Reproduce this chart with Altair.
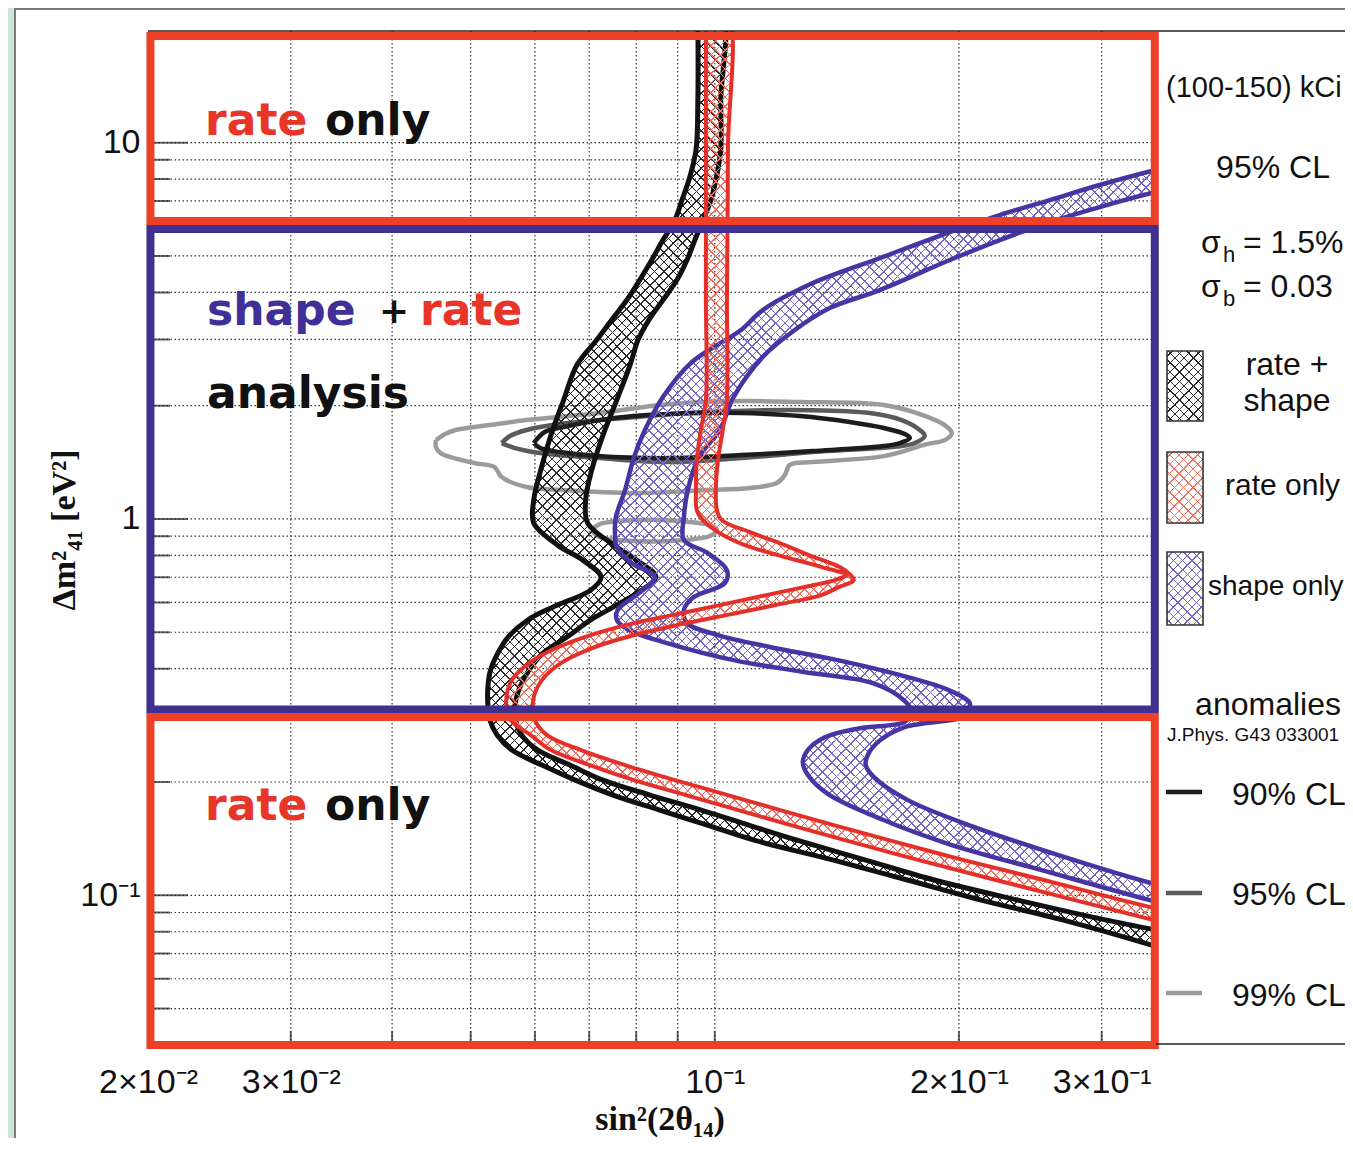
import math
import altair as alt
import pandas as pd

# ---------------- data ----------------
# black band: rate + shape
black_y = [22.0, 12.98, 9.557, 7.954, 7.038, 6.228, 5.510, 4.876, 4.314, 3.817, 3.377, 2.988, 2.564, 2.070,
           1.671, 1.349, 1.122, 0.975, 0.852, 0.778, 0.701, 0.647, 0.583, 0.539, 0.4855, 0.440, 0.3967, 0.3575,
           0.3203, 0.2922, 0.2665, 0.2431, 0.2218, 0.2023, 0.1846, 0.1684, 0.1536, 0.1401, 0.1240, 0.1098,
           0.0971, 0.0859, 0.0737, 0.0672]
black_left = [0.0953, 0.0953, 0.0948, 0.0929, 0.0911, 0.0893, 0.0863, 0.0836, 0.0808, 0.0779, 0.0746, 0.0715,
              0.0676, 0.0651, 0.0628, 0.0610, 0.0598, 0.0598, 0.0640, 0.0687, 0.0724, 0.0703, 0.0631, 0.0588,
              0.0556, 0.0540, 0.0529, 0.0525, 0.0525, 0.0528, 0.0539, 0.0562, 0.0612, 0.0673, 0.0749, 0.0855,
              0.0979, 0.1118, 0.1401, 0.1728, 0.2131, 0.2691, 0.3458, 0.3963]
black_right = [0.1020, 0.1017, 0.1017, 0.1003, 0.0989, 0.0967, 0.0945, 0.0924, 0.0898, 0.0863, 0.0829, 0.0804,
               0.0786, 0.0757, 0.0728, 0.0705, 0.0693, 0.0697, 0.0751, 0.0801, 0.0846, 0.0813, 0.0749, 0.0703,
               0.0657, 0.0614, 0.0590, 0.0575, 0.0567, 0.0568, 0.0578, 0.0605, 0.0663, 0.0728, 0.0832, 0.0962,
               0.1101, 0.1263, 0.1535, 0.1865, 0.2364, 0.3040, 0.4316, 0.4974]

# red band: rate only
red_y = [22.0, 9.557, 3.817, 2.070, 1.723, 1.434, 1.193, 1.056, 0.993, 0.917, 0.852, 0.8017, 0.745, 0.7094,
         0.688, 0.659, 0.6276, 0.5904, 0.5553, 0.5224, 0.4915, 0.4539, 0.4140, 0.3731, 0.3302, 0.2922, 0.2665,
         0.2431, 0.2218, 0.2023, 0.1846, 0.1684, 0.1536, 0.1401, 0.1240, 0.1098, 0.0971, 0.0859, 0.0760]
red_left = [0.0975, 0.0975, 0.0975, 0.0975, 0.0961, 0.0950, 0.0948, 0.0950, 0.0967, 0.1014, 0.1089, 0.1196,
            0.1355, 0.1451, 0.1406, 0.1288, 0.1157, 0.1014, 0.0886, 0.0777, 0.0703, 0.0637, 0.0590, 0.0562,
            0.0553, 0.0560, 0.0593, 0.0628, 0.0701, 0.0795, 0.0921, 0.1069, 0.1241, 0.1447, 0.1785, 0.2221,
            0.2779, 0.3478, 0.4402]
red_right = [0.1035, 0.1038, 0.1035, 0.1035, 0.1023, 0.1009, 0.1003, 0.1006, 0.1020, 0.1114, 0.1220, 0.1306,
             0.1426, 0.1471, 0.1484, 0.1422, 0.1353, 0.1188, 0.1034, 0.0898, 0.0796, 0.0706, 0.0646, 0.0612,
             0.0597, 0.0600, 0.0621, 0.0684, 0.0775, 0.0893, 0.1038, 0.1204, 0.1402, 0.1639, 0.2028, 0.2545,
             0.3176, 0.4008, 0.5117]

# blue band: shape only (two edges)
blue_left_x = [0.3963, 0.3498, 0.2983, 0.2589, 0.2246, 0.1949, 0.1598, 0.1321, 0.1146, 0.1077, 0.0934, 0.0863,
               0.0820, 0.0795, 0.0775, 0.0755, 0.0753, 0.0757, 0.0790, 0.0843, 0.0806, 0.0759, 0.0757, 0.0783,
               0.0873, 0.1058, 0.1288, 0.1566, 0.1710, 0.1749, 0.1715, 0.1509, 0.1367, 0.1302, 0.1284, 0.1302,
               0.1378, 0.1620, 0.1960, 0.2516, 0.3439, 0.4077]
blue_left_y = [8.99, 8.456, 7.715, 7.038, 6.421, 5.787, 4.936, 4.235, 3.590, 3.177, 2.596, 2.109, 1.723, 1.460,
               1.193, 1.012, 0.934, 0.842, 0.763, 0.701, 0.635, 0.573, 0.539, 0.507, 0.468, 0.421, 0.392, 0.366,
               0.330, 0.307, 0.289, 0.278, 0.263, 0.243, 0.226, 0.209, 0.186, 0.158, 0.136, 0.117, 0.0971, 0.0886]
blue_right_x = [0.4077, 0.3498, 0.2983, 0.2589, 0.2246, 0.1949, 0.1598, 0.1386, 0.1255, 0.1146, 0.1055, 0.1014,
                0.0956, 0.0926, 0.0916, 0.0916, 0.0980, 0.1035, 0.1029, 0.0942, 0.0916, 0.0924, 0.1009, 0.1169,
                0.1422, 0.1730, 0.1943, 0.2063, 0.2051, 0.2045, 0.1715, 0.1598, 0.1544, 0.1535, 0.1575, 0.1730,
                0.2086, 0.2678, 0.3439, 0.4077]
blue_right_y = [7.954, 7.391, 6.743, 6.152, 5.510, 4.876, 4.058, 3.634, 3.177, 2.693, 2.109, 1.723, 1.460, 1.193,
                1.012, 0.879, 0.812, 0.731, 0.675, 0.620, 0.573, 0.529, 0.4915, 0.457, 0.421, 0.380, 0.351, 0.324,
                0.307, 0.299, 0.280, 0.258, 0.236, 0.222, 0.205, 0.179, 0.152, 0.127, 0.108, 0.0995]

# anomalies contours (J.Phys. G43 033001)
cl90_x = [0.0598, 0.0617, 0.0650, 0.0721, 0.0795, 0.0958, 0.1077, 0.1273, 0.1467, 0.1616, 0.1715, 0.1740,
          0.1691, 0.1616, 0.1321, 0.1077, 0.0880, 0.0717, 0.0644, 0.0609, 0.0598]
cl90_y = [1.591, 1.702, 1.754, 1.831, 1.877, 1.912, 1.912, 1.877, 1.809, 1.744, 1.681, 1.641, 1.591, 1.562,
          1.515, 1.478, 1.451, 1.469, 1.506, 1.543, 1.591]
cl95_x = [0.0546, 0.0559, 0.0586, 0.0644, 0.0721, 0.0975, 0.1321, 0.1553, 0.1700, 0.1790, 0.1815, 0.1765,
          0.1700, 0.1321, 0.1077, 0.0880, 0.0721, 0.0609, 0.0567, 0.0546]
cl95_y = [1.591, 1.661, 1.723, 1.787, 1.831, 1.924, 1.946, 1.912, 1.831, 1.723, 1.661, 1.591, 1.562, 1.506,
          1.451, 1.416, 1.451, 1.497, 1.543, 1.591]
cl99_x = [0.0453, 0.0465, 0.0479, 0.0528, 0.0586, 0.0721, 0.0880, 0.1077, 0.1273, 0.1616, 0.1790, 0.1921,
          0.1960, 0.1921, 0.1826, 0.1616, 0.1321, 0.1237, 0.1220, 0.1192, 0.1105, 0.0975, 0.0795, 0.0650,
          0.0586, 0.0546, 0.0535, 0.0505, 0.0459, 0.0453, 0.0453]
cl99_y = [1.620, 1.681, 1.723, 1.776, 1.831, 1.912, 2.020, 2.057, 2.045, 2.008, 1.900, 1.776, 1.692, 1.620,
          1.581, 1.469, 1.416, 1.391, 1.308, 1.246, 1.208, 1.193, 1.172, 1.193, 1.216, 1.292, 1.374, 1.408,
          1.497, 1.553, 1.620]
cl99b_x = [0.0705, 0.0721, 0.0795, 0.0905, 0.0986, 0.1006, 0.0986, 0.0880, 0.0795, 0.0721, 0.0705]
cl99b_y = [0.934, 0.969, 0.993, 0.987, 0.963, 0.934, 0.901, 0.874, 0.874, 0.895, 0.934]

# analysis regions (Δm² ranges of the framed boxes)
region_names = ["rate only (high)", "shape + rate", "rate only (low)"]
region_lo = [6.19, 0.3116, 0.0400]
region_hi = [19.2, 5.894, 0.2976]
region_sin_lo = [0.02014, 0.02014, 0.02014]
region_sin_hi = [0.3488, 0.3488, 0.3488]

# axis ticks / grid
x_grid = [0.03, 0.04, 0.05, 0.06, 0.07, 0.08, 0.09, 0.1, 0.2, 0.3]
x_labelled = [0.02, 0.03, 0.1, 0.2, 0.3]
y_grid = [0.05, 0.06, 0.07, 0.08, 0.09, 0.1, 0.2, 0.3, 0.4, 0.5, 0.6, 0.7, 0.8, 0.9,
          1, 2, 3, 4, 5, 6, 7, 8, 9, 10]
y_major = [0.1, 1, 10]
y_minor = [0.05, 0.06, 0.07, 0.08, 0.09, 0.2, 0.3, 0.4, 0.5, 0.6, 0.7, 0.8, 0.9,
           2, 3, 4, 5, 6, 7, 8, 9]

# ---------------- styling ----------------
RED_BOX = "#ec4126"
BLUE_BOX = "#3f2f91"
RED_LINE = "#e4302a"
BLUE_LINE = "#4834a2"
RED_TXT = "#e8352a"
BLUE_TXT = "#3f2f96"
HATCH_K = "#2a2a2a"
HATCH_R = "#f0705f"
HATCH_B = "#7466c4"
CLEAR = "rgba(255,255,255,0)"
W, H = 1008, 1012
XD = [0.02, 0.35]
YD = [0.0405, 19.8]

xs = alt.Scale(type="log", domain=XD, nice=False)
ys = alt.Scale(type="log", domain=YD, nice=False)
x_expr = ("datum.value==0.02?'2×10⁻²':datum.value==0.03?'3×10⁻²':datum.value==0.1?'10⁻¹':"
          "datum.value==0.2?'2×10⁻¹':datum.value==0.3?'3×10⁻¹':''")
y_expr = "datum.value==10?'10':datum.value==1?'1':datum.value==0.1?'10⁻¹':''"
xaxis = alt.Axis(values=x_labelled, labelExpr=x_expr, grid=False, ticks=False, tickSize=0, domain=False,
                 title=None, labelFont="Liberation Sans", labelFontSize=34, labelColor="#111",
                 labelPadding=49, labelBaseline="alphabetic", labelFlush=False, labelOverlap=False,
                 labelBound=False, zindex=1)
yaxis = alt.Axis(values=y_major, labelExpr=y_expr, grid=False, ticks=False, tickSize=0, domain=False,
                 title=None, labelFont="Liberation Sans", labelFontSize=34, labelColor="#111",
                 labelPadding=8, labelFlush=False, labelOverlap=False, labelBound=False, zindex=1)


def X(f):
    return alt.X(f, type="quantitative", scale=xs, axis=xaxis)


def Y(f):
    return alt.Y(f, type="quantitative", scale=ys, axis=yaxis)


def poly(lx, ly, rx, ry):
    px = list(lx) + list(reversed(rx)) + [lx[0]]
    py = list(ly) + list(reversed(ry)) + [ly[0]]
    return pd.DataFrame({"x": px, "y": py, "i": list(range(len(px)))})


def closed(cx, cy):
    return pd.DataFrame({"x": cx, "y": cy, "i": list(range(len(cx)))})


def pix_size(df):
    """approximate on-screen size of a polygon (for the hatch spacing only)"""
    lx = [math.log10(v) for v in df["x"]]
    ly = [math.log10(v) for v in df["y"]]
    sx = W / (math.log10(XD[1]) - math.log10(XD[0]))
    sy = H / (math.log10(YD[1]) - math.log10(YD[0]))
    return (max(lx) - min(lx)) * sx, (max(ly) - min(ly)) * sy


def hatch(bw, bh, color, flip, period=6.6, lw=1.1):
    """45-degree line hatch as a striped linear gradient in bounding-box units"""
    k = (bw + bh) / (bw ** 2 + bh ** 2)
    a, b = k * bw, k * bh
    n = (bw + bh) / (math.sqrt(2) * period)
    dt = 1.0 / n
    w = lw * math.sqrt(2) / (bw + bh)
    stops = []
    t = dt / 2
    while t + w < 1:
        t0, t1 = round(t, 5), round(t + w, 5)
        stops += [{"offset": t0, "color": CLEAR}, {"offset": t0, "color": color},
                  {"offset": t1, "color": color}, {"offset": t1, "color": CLEAR}]
        t += dt
    if flip:
        return {"gradient": "linear", "x1": 0, "y1": 1, "x2": a, "y2": 1 - b, "stops": stops}
    return {"gradient": "linear", "x1": 0, "y1": 0, "x2": a, "y2": b, "stops": stops}


one = pd.DataFrame({"k": [0]})


def txt(s, px, py, size=32, color="#111", font="Liberation Sans", weight="normal", align="left",
        baseline="alphabetic", angle=0):
    return alt.Chart(one).mark_text(text=s, fontSize=size, color=color, font=font, fontWeight=weight,
                                    align=align, baseline=baseline, angle=angle).encode(
        x=alt.value(px), y=alt.value(py))


def hrule(x1, x2, y, color, width):
    return alt.Chart(one).mark_rule(color=color, strokeWidth=width).encode(
        x=alt.value(x1), x2=alt.value(x2), y=alt.value(y))


def swatch(y1, y2, hcol):
    out = []
    for flip in (False, True):
        out.append(alt.Chart(one).mark_rect(fill=hatch(36, y2 - y1, hcol, flip, lw=1.0), strokeWidth=0).encode(
            x=alt.value(1019), x2=alt.value(1055), y=alt.value(y1), y2=alt.value(y2)))
    out.append(alt.Chart(one).mark_rect(fillOpacity=0, stroke="#333", strokeWidth=1.6).encode(
        x=alt.value(1019), x2=alt.value(1055), y=alt.value(y1), y2=alt.value(y2)))
    return out


layers = []
# white panel on green page
layers.append(alt.Chart(one).mark_rect(fill="white", stroke="#555", strokeWidth=1.5).encode(
    x=alt.value(-133), x2=alt.value(1400), y=alt.value(-22), y2=alt.value(1300)))

# grid
layers.append(alt.Chart(pd.DataFrame({"v": x_grid})).mark_rule(
    color="#333", strokeWidth=1.2, strokeDash=[1.5, 2.5]).encode(x=X("v")))
layers.append(alt.Chart(pd.DataFrame({"v": y_grid})).mark_rule(
    color="#333", strokeWidth=1.2, strokeDash=[1.5, 2.5]).encode(y=Y("v")))

# anomaly contours
for cx, cy, col in [(cl99_x, cl99_y, "#9b9b9b"), (cl99b_x, cl99b_y, "#9b9b9b"),
                    (cl95_x, cl95_y, "#5a5a5a"), (cl90_x, cl90_y, "#1c1c1c")]:
    layers.append(alt.Chart(closed(cx, cy)).mark_line(
        stroke=col, strokeWidth=4.5, interpolate="catmull-rom", clip=True, strokeJoin="round").encode(
        x=X("x"), y=Y("y"), order="i:Q"))

# bands: hatched interior + edge lines
bands = [
    (poly(black_left, black_y, black_right, black_y), HATCH_K, "#111111", 5),
    (poly(blue_left_x, blue_left_y, blue_right_x, blue_right_y), HATCH_B, BLUE_LINE, 4.5),
    (poly(red_left, red_y, red_right, red_y), HATCH_R, RED_LINE, 4),
]
for df, hcol, line, sw in bands:
    bw, bh = pix_size(df)
    for flip in (False, True):
        layers.append(alt.Chart(df).mark_line(
            fill=hatch(bw, bh, hcol, flip), stroke="transparent", strokeWidth=0,
            interpolate="catmull-rom", clip=True).encode(x=X("x"), y=Y("y"), order="i:Q"))
    layers.append(alt.Chart(df).mark_line(
        stroke=line, strokeWidth=sw, interpolate="catmull-rom",
        clip=True, strokeJoin="round").encode(x=X("x"), y=Y("y"), order="i:Q"))

# ticks (inside the frame)
layers.append(alt.Chart(pd.DataFrame({"v": y_major})).mark_tick(
    orient="horizontal", size=80, thickness=2, color="#222", clip=True).encode(x=alt.value(0), y=Y("v")))
layers.append(alt.Chart(pd.DataFrame({"v": y_minor})).mark_tick(
    orient="horizontal", size=44, thickness=2, color="#222", clip=True).encode(x=alt.value(0), y=Y("v")))
layers.append(alt.Chart(pd.DataFrame({"v": x_grid})).mark_tick(
    orient="vertical", size=24, thickness=2, color="#222", clip=True).encode(x=X("v"), y=alt.value(H)))

# analysis region frames
reg = pd.DataFrame({"name": region_names, "lo": region_lo, "hi": region_hi,
                    "a": region_sin_lo, "b": region_sin_hi,
                    "col": [RED_BOX, BLUE_BOX, RED_BOX]})
layers.append(alt.Chart(reg).mark_rect(fillOpacity=0, strokeWidth=8).encode(
    x=X("a"), x2="b", y=Y("lo"), y2="hi", stroke=alt.Stroke("col:N", scale=None)))

# frame lines of the figure / legend panel
layers.append(hrule(0, 1400, 0, "#222", 1.6))
layers.append(hrule(W, 1400, 1013, "#222", 1.6))

# in-plot annotations
BIG = dict(size=44, font="DejaVu Sans", weight="bold")
layers += [
    txt("rate", 57, 104, color=RED_TXT, **BIG),
    txt("only", 177, 104, color="#111", **BIG),
    txt("shape", 59, 294, color=BLUE_TXT, **BIG),
    txt("+", 231, 292, color="#111", size=36, font="DejaVu Sans", weight="bold"),
    txt("rate", 272, 294, color=RED_TXT, **BIG),
    txt("analysis", 59, 377, color="#111", **BIG),
    txt("rate", 57, 789, color=RED_TXT, **BIG),
    txt("only", 177, 789, color="#111", **BIG),
]

# axis titles
layers.append(txt("Δm²₄₁ [eV²]", -83, 499, size=34, font="Liberation Serif", weight="bold",
                  align="center", baseline="middle", angle=270))
layers.append(txt("sin²(2θ₁₄)", 512, 1099, size=34, font="Liberation Serif", weight="bold",
                  align="center"))

# legend panel
layers += [
    txt("(100-150) kCi", 1018, 57, size=29, baseline="middle"),
    txt("95% CL", 1125, 137, align="center", baseline="middle"),
    txt("σ", 1053, 222), txt("h", 1075, 231, size=22), txt("= 1.5%", 1095, 222),
    txt("σ", 1053, 266), txt("b", 1075, 275, size=22), txt("= 0.03", 1095, 266),
]
layers += swatch(320, 390, HATCH_K)
layers += swatch(421, 492, HATCH_R)
layers += swatch(521, 594, HATCH_B)
layers += [
    txt("rate +", 1139, 344, align="center"),
    txt("shape", 1139, 380, align="center"),
    txt("rate only", 1077, 464, size=30),
    txt("shape only", 1060, 564, size=28),
    txt("anomalies", 1120, 684, align="center"),
    txt("J.Phys. G43 033001", 1019, 710, size=19),
    hrule(1018, 1054, 761, "#1c1c1c", 4.5),
    hrule(1018, 1054, 862, "#5a5a5a", 4.5),
    hrule(1018, 1054, 962, "#9b9b9b", 4.5),
    txt("90% CL", 1084, 774),
    txt("95% CL", 1084, 874),
    txt("99% CL", 1084, 975),
]

chart = alt.layer(*layers).properties(
    width=W, height=H, background="#cde6d6",
    padding={"left": 140, "top": 23, "right": 189, "bottom": 95},
    autosize=alt.AutoSizeParams(type="none"),
).configure_view(stroke=None)

chart.save("out.html", embed_options={"renderer": "svg", "actions": False})
